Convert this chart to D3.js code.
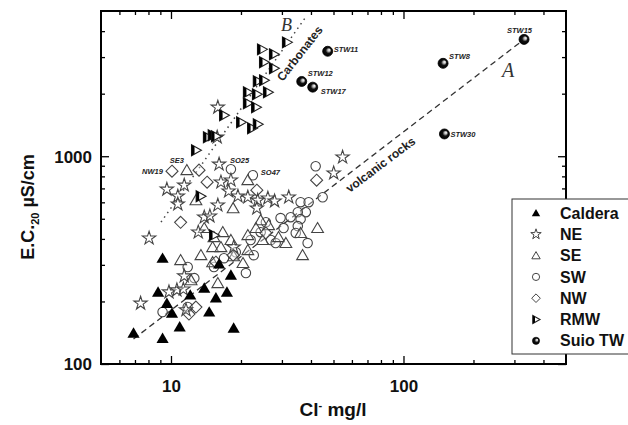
<!DOCTYPE html>
<html lang="en">
<head>
<meta charset="UTF-8">
<title>EC vs Cl</title>
<script src="https://cdn.jsdelivr.net/npm/d3@7"></script>
<style>
  body { margin: 0; background: #fff; }
  svg text { font-family: Arial, "Liberation Sans", sans-serif; }
  svg text.serif { font-family: "Liberation Serif", "Times New Roman", serif; }
</style>
</head>
<body>
<svg id="chart" width="628" height="425"></svg>
<script>
// ---- data (Cl- mg/l , E.C.20 uS/cm) ----
var calderaCl = [6.9, 8.8, 9.2, 9.2, 9.6, 10.1, 10.9, 12.1, 13.9, 14.6, 15.6, 17.4, 18.1, 18.6, 16.1];
var calderaEC = [141, 222, 323, 133, 196, 176, 151, 215, 232, 178, 208, 222, 268, 149, 303];

var neCl = [16.1, 11.4, 9.6, 10.7, 10.7, 8.05, 7.4, 16.4, 18.1, 17.7, 19.4, 21.4, 23.6, 26.1, 27.9, 32.1, 23.4, 15.9, 54.7, 50.1, 9.8, 10.6, 11.3, 11.4, 13.1, 13.9, 14.7, 18.6, 11.6, 15.9, 15.8];
var neEC = [915, 725, 693, 642, 588, 403, 196, 750, 767, 679, 642, 635, 614, 628, 608, 635, 562, 581, 989, 829, 222, 227, 229, 265, 431, 509, 515, 365, 182, 1720, 1234];

var seCl = [11.7, 21.4, 18.5, 12.8, 42.7, 13.9, 16.7, 18.1, 15.1, 24.3, 26.3, 23.2, 21.4, 29.0, 31.2, 11.0, 13.45, 15.3, 16.4, 20.4, 36.8, 18.6, 15.1, 21.4, 15.9, 12.2, 24.8, 36.1];
var seEC = [857, 767, 562, 614, 451, 451, 431, 395, 365, 492, 466, 451, 417, 408, 382, 316, 334, 408, 365, 306, 334, 330, 309, 353, 245, 253, 395, 427];

var swCl = [18.1, 22.5, 41.9, 36.1, 39.1, 44.9, 38.0, 35.1, 36.1, 32.7, 29.6, 30.5, 35.1, 34.4, 26.9, 28.2, 38.7, 22.0, 11.8, 12.6, 15.3, 16.9, 21.0, 22.7, 19.0, 9.2, 11.8, 24.3, 25.6];
var swEC = [866, 810, 895, 601, 601, 635, 538, 538, 498, 509, 504, 451, 461, 427, 395, 382, 382, 395, 293, 259, 293, 323, 274, 334, 345, 178, 188, 431, 481];

var nwCl = [10.1, 13.2, 14.3, 11.0, 23.4, 42.3, 12.8, 11.95, 18.5, 25.6, 15.6];
var nwEC = [847, 857, 750, 481, 686, 767, 188, 174, 334, 427, 309];

var rmwCl = [24.6, 27.7, 31.5, 25.1, 27.7, 23.6, 25.1, 21.4, 23.4, 26.1, 21.4, 23.2, 16.9, 20.0, 22.3, 23.6, 14.4, 15.1, 15.6, 12.8, 13.4, 15.3];
var rmwEC = [3268, 3094, 3532, 2831, 2650, 2294, 2319, 2031, 1986, 2031, 1798, 1720, 1574, 1457, 1363, 1425, 1234, 1262, 1248, 1069, 642, 417];

var suioCl = [330, 148, 47.2, 36.5, 40.7, 150];
var suioEC = [3650, 2800, 3200, 2290, 2150, 1280];
var suioNames = ["STW15", "STW8", "STW11", "STW12", "STW17", "STW30"];

// labelled sample points
var tagNames = ["NW19", "SE3", "SO25", "SO47"];
var tagCl = [10.1, 11.7, 18.1, 22.5];
var tagEC = [847, 857, 866, 810];

// trend lines: A = volcanic rocks, B = carbonates
var lineACl = [6.9, 330], lineAEC = [132, 3650];
var lineBCl = [9.06, 37.6], lineBEC = [482, 4600];

var xMajor = [10, 100];
var xMinor = [6, 7, 8, 9, 20, 30, 40, 50, 60, 70, 80, 90, 200, 300, 400];
var yMajor = [100, 1000];
var yMinor = [200, 300, 400, 500, 600, 700, 800, 900, 2000, 3000, 4000];

var legendNames = ["Caldera", "NE", "SE", "SW", "NW", "RMW", "Suio TW"];

// ---- layout ----
var marge = { top: 11, left: 101, right: 62, bottom: 61 };
var svg = d3.select("#chart");
var width = +svg.attr("width") - marge.left - marge.right;
var height = +svg.attr("height") - marge.top - marge.bottom;

var x = d3.scaleLog().domain([5, 500]).range([0, width]);
var y = d3.scaleLog().domain([100, 5000]).range([height, 0]);

var defs = svg.append("defs");
var grad = defs.append("radialGradient").attr("id", "ball")
  .attr("cx", "0.5").attr("cy", "0.5").attr("r", "0.5").attr("fx", "0.68").attr("fy", "0.35");
grad.append("stop").attr("offset", "0").attr("stop-color", "#fff");
grad.append("stop").attr("offset", "0.25").attr("stop-color", "#bbb");
grad.append("stop").attr("offset", "0.55").attr("stop-color", "#111");
grad.append("stop").attr("offset", "1").attr("stop-color", "#000");

var g = svg.append("g").attr("transform", "translate(" + marge.left + "," + marge.top + ")");

function zip(a, b) { return a.map(function (d, i) { return [d, b[i]]; }); }

// ---- axes (ticks pointing inward on all four sides) ----
function tickAxis(axisFn, scale, vals, size, labels, pos) {
  var ax = axisFn(scale).tickValues(vals).tickSizeInner(size).tickSizeOuter(0)
    .tickFormat(labels ? d3.format("d") : "");
  var a = g.append("g").attr("transform", pos).call(ax);
  a.select(".domain").remove();
  a.selectAll("line").attr("stroke", "#000").attr("stroke-width", 1.3);
  a.selectAll("text").attr("font-size", 17).attr("font-weight", "bold").attr("fill", "#111");
  return a;
}
var xb = tickAxis(d3.axisBottom, x, xMajor, -8, true, "translate(0," + height + ")");
xb.selectAll("text").attr("y", 16);
tickAxis(d3.axisBottom, x, xMinor, -4, false, "translate(0," + height + ")");
tickAxis(d3.axisTop, x, xMajor, -8, false, "translate(0,0)");
tickAxis(d3.axisTop, x, xMinor, -4, false, "translate(0,0)");
var yl = tickAxis(d3.axisLeft, y, yMajor, -8, true, "translate(0,0)");
yl.selectAll("text").attr("x", -9).attr("dy", "0.35em");
tickAxis(d3.axisLeft, y, yMinor, -4, false, "translate(0,0)");
tickAxis(d3.axisRight, y, yMajor, -8, false, "translate(" + width + ",0)");
tickAxis(d3.axisRight, y, yMinor, -4, false, "translate(" + width + ",0)");

g.append("rect").attr("width", width).attr("height", height)
  .attr("fill", "none").attr("stroke", "#000").attr("stroke-width", 2);

// axis titles
var yt = svg.append("text").attr("transform", "translate(34,207) rotate(-90)")
  .attr("text-anchor", "middle").attr("font-size", 18).attr("font-weight", "bold").attr("fill", "#111");
yt.append("tspan").text("E.C.");
yt.append("tspan").text("20").attr("font-size", 11).attr("dy", 5);
yt.append("tspan").text(" µS/cm").attr("dy", -5);

var xt = svg.append("text").attr("x", 333).attr("y", 416)
  .attr("text-anchor", "middle").attr("font-size", 19).attr("font-weight", "bold").attr("fill", "#111");
xt.append("tspan").text("Cl");
xt.append("tspan").text("-").attr("font-size", 11).attr("dy", -7);
xt.append("tspan").text(" mg/l").attr("dy", 7);

// ---- trend lines ----
var line = d3.line().x(function (d) { return x(d[0]); }).y(function (d) { return y(d[1]); });
g.append("path").datum(zip(lineACl, lineAEC)).attr("d", line)
  .attr("fill", "none").attr("stroke", "#333").attr("stroke-width", 1.3).attr("stroke-dasharray", "6,4");
g.append("path").datum(zip(lineBCl, lineBEC)).attr("d", line)
  .attr("fill", "none").attr("stroke", "#444").attr("stroke-width", 1.5).attr("stroke-dasharray", "1.5,4");

// ---- symbols ----
function tri(s) { return "M0," + (-s) + "L" + (s * 1.05) + "," + (s * 0.8) + "L" + (-s * 1.05) + "," + (s * 0.8) + "Z"; }
function diamond(s) { return "M0," + (-s) + "L" + s + ",0L0," + s + "L" + (-s) + ",0Z"; }
var starPath = d3.symbol().type(d3.symbolStar);

function drawOpen(cl, ec, pathFn) {
  g.append("g").selectAll("path").data(zip(cl, ec)).enter().append("path")
    .attr("transform", function (d) { return "translate(" + x(d[0]) + "," + y(d[1]) + ")"; })
    .attr("d", pathFn)
    .attr("fill", "#fff").attr("fill-opacity", 0.35)
    .attr("stroke", "#444").attr("stroke-width", 1.1);
}
drawOpen(swCl, swEC, function () { return d3.symbol().type(d3.symbolCircle).size(70)(); });
drawOpen(seCl, seEC, function () { return tri(5.6); });
drawOpen(nwCl, nwEC, function () { return diamond(6); });
drawOpen(neCl, neEC, function () { return starPath.size(55)(); });

// caldera filled triangles
g.append("g").selectAll("path").data(zip(calderaCl, calderaEC)).enter().append("path")
  .attr("transform", function (d) { return "translate(" + x(d[0]) + "," + y(d[1]) + ")"; })
  .attr("d", tri(5.8)).attr("fill", "#000");

// RMW half-filled right triangles
function rmwSym(sel, s) {
  sel.append("path").attr("d", "M" + (-s * 0.8) + "," + (-s) + "L" + s + ",0L" + (-s * 0.8) + "," + s + "Z")
    .attr("fill", "#fff").attr("stroke", "#222").attr("stroke-width", 1.1);
  sel.append("path").attr("d", "M" + (-s * 0.8) + "," + (-s) + "L" + (-s * 0.25) + "," + (-s * 0.69) + "L" + (-s * 0.25) + "," + (s * 0.69) + "L" + (-s * 0.8) + "," + s + "Z")
    .attr("fill", "#000");
}
g.append("g").selectAll("g").data(zip(rmwCl, rmwEC)).enter().append("g")
  .attr("transform", function (d) { return "translate(" + x(d[0]) + "," + y(d[1]) + ")"; })
  .call(rmwSym, 5.5);

// Suio TW balls
g.append("g").selectAll("circle").data(zip(suioCl, suioEC)).enter().append("circle")
  .attr("cx", function (d) { return x(d[0]); }).attr("cy", function (d) { return y(d[1]); })
  .attr("r", 5).attr("fill", "url(#ball)").attr("stroke", "#000").attr("stroke-width", 0.8);

// ---- point labels ----
var suioOff = [[-17, -6], [6, -4], [6, 1], [6, -5], [8, 7], [6, 3]];
g.append("g").selectAll("text").data(suioNames).enter().append("text")
  .attr("x", function (d, i) { return x(suioCl[i]) + suioOff[i][0]; })
  .attr("y", function (d, i) { return y(suioEC[i]) + suioOff[i][1]; })
  .attr("font-size", 7.5).attr("font-style", "italic").attr("font-weight", "bold").attr("fill", "#222")
  .text(function (d) { return d; });
var tagOff = [[-30, 3], [-17, -7], [-1, -6], [8, 0]];
g.append("g").selectAll("text").data(tagNames).enter().append("text")
  .attr("x", function (d, i) { return x(tagCl[i]) + tagOff[i][0]; })
  .attr("y", function (d, i) { return y(tagEC[i]) + tagOff[i][1]; })
  .attr("font-size", 7.5).attr("font-style", "italic").attr("font-weight", "bold").attr("fill", "#222")
  .text(function (d) { return d; });

// line annotations
svg.append("text").attr("transform", "translate(383,168) rotate(-37)")
  .attr("text-anchor", "middle").attr("font-size", 12).attr("font-weight", "bold").attr("fill", "#222")
  .text("volcanic rocks");
svg.append("text").attr("transform", "translate(303,56) rotate(-52)")
  .attr("text-anchor", "middle").attr("font-size", 12).attr("font-weight", "bold").attr("fill", "#222")
  .text("Carbonates");
svg.append("text").attr("class", "serif").attr("x", 502).attr("y", 77)
  .attr("font-size", 20).attr("font-style", "italic").attr("fill", "#333").text("A");
svg.append("text").attr("class", "serif").attr("x", 281).attr("y", 31)
  .attr("font-size", 18).attr("font-style", "italic").attr("fill", "#333").text("B");

// ---- legend ----
var lg = svg.append("g").attr("transform", "translate(512,199)");
lg.append("rect").attr("width", 130).attr("height", 155)
  .attr("fill", "#fff").attr("stroke", "#333").attr("stroke-width", 1);
var rows = lg.selectAll("g.row").data(legendNames).enter().append("g")
  .attr("transform", function (d, i) { return "translate(24," + (14 + i * 21.3) + ")"; });
rows.append("text").attr("x", 24).attr("dy", "0.35em")
  .attr("font-size", 16).attr("font-weight", "bold").attr("fill", "#111")
  .text(function (d) { return d; });
rows.each(function (d, i) {
  var r = d3.select(this);
  if (i === 0) r.append("path").attr("d", tri(4)).attr("fill", "#000");
  if (i === 1) r.append("path").attr("d", starPath.size(34)()).attr("fill", "none").attr("stroke", "#444");
  if (i === 2) r.append("path").attr("d", tri(4)).attr("fill", "none").attr("stroke", "#444");
  if (i === 3) r.append("circle").attr("r", 3.6).attr("fill", "none").attr("stroke", "#444");
  if (i === 4) r.append("path").attr("d", diamond(4.3)).attr("fill", "none").attr("stroke", "#444");
  if (i === 5) rmwSym(r, 4);
  if (i === 6) r.append("circle").attr("r", 3.6).attr("fill", "url(#ball)").attr("stroke", "#000").attr("stroke-width", 0.6);
});
</script>
</body>
</html>
